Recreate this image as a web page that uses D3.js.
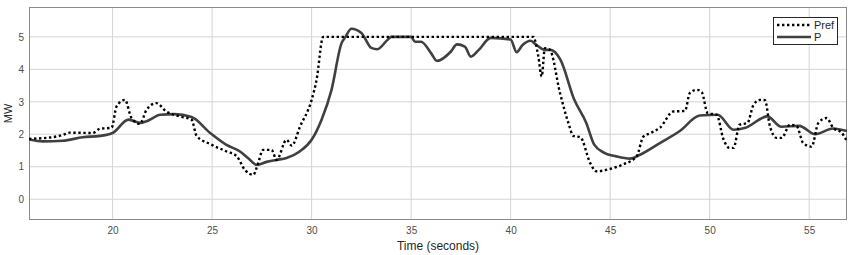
<!DOCTYPE html>
<html>
<head>
<meta charset="utf-8">
<script src="https://cdn.jsdelivr.net/npm/d3@7"></script>
<style>
  body { margin: 0; background: #fff; }
  text { font-family: "Liberation Sans", Arial, sans-serif; }
</style>
</head>
<body>
<script>
// données
const tempsRef = [15.8, 16.85, 17.5, 17.85, 19.0, 19.36, 19.95, 20.2, 20.62, 20.95, 21.37, 21.7, 22.2, 22.7, 23.38, 23.97, 24.22, 24.9, 25.73, 26.23, 26.65, 27.07, 27.24, 27.57, 27.99, 28.24, 28.74, 29.0, 29.42, 30.0, 30.25, 30.58, 41.14, 41.39, 41.56, 41.72, 41.97, 42.48, 42.9, 43.15, 43.5, 44.0, 44.3, 44.98, 45.65, 46.33, 46.67, 47.0, 47.5, 48.17, 48.76, 49.0, 49.35, 49.6, 49.9, 50.35, 50.7, 51.0, 51.2, 51.5, 51.9, 52.2, 52.53, 52.78, 53.03, 53.37, 53.62, 54.03, 54.37, 54.7, 55.12, 55.46, 55.88, 56.2, 56.63, 56.9];
const pref = [1.86, 1.9, 1.98, 2.05, 2.04, 2.17, 2.2, 2.86, 3.06, 2.5, 2.32, 2.75, 2.96, 2.7, 2.55, 2.45, 1.95, 1.7, 1.47, 1.33, 0.9, 0.75, 0.97, 1.52, 1.52, 1.21, 1.83, 1.65, 2.24, 3.06, 3.68, 5.0, 5.0, 4.4, 3.78, 4.65, 4.6, 3.27, 2.35, 1.95, 1.91, 1.11, 0.86, 0.93, 1.07, 1.32, 1.93, 2.03, 2.2, 2.7, 2.72, 3.27, 3.37, 3.3, 2.65, 2.6, 1.83, 1.58, 1.58, 2.29, 2.35, 2.9, 3.06, 3.05, 2.24, 1.89, 1.89, 2.29, 2.25, 1.73, 1.62, 2.35, 2.5, 2.2, 2.05, 1.78];

const tempsP = [15.8, 16.5, 17.5, 18.5, 19.36, 20.0, 20.8, 21.4, 21.7, 22.4, 23.1, 23.97, 24.9, 25.7, 26.4, 26.8, 27.24, 27.74, 28.24, 28.74, 29.4, 30.0, 30.5, 31.0, 31.5, 31.7, 32.0, 32.5, 33.0, 33.3, 33.8, 34.0, 35.0, 35.2, 35.5, 36.0, 36.3, 37.0, 37.3, 37.7, 38.0, 38.4, 39.0, 40.0, 40.3, 40.6, 41.0, 41.3, 41.7, 42.0, 42.5, 43.2, 43.8, 44.2, 44.7, 45.3, 46.0, 46.5, 47.5, 48.5, 49.5, 50.4, 51.2, 51.8, 52.9, 53.6, 54.5, 55.3, 56.2, 56.9];
const p = [1.84, 1.78, 1.8, 1.91, 1.95, 2.04, 2.45, 2.35, 2.4, 2.6, 2.62, 2.53, 2.04, 1.68, 1.47, 1.27, 1.06, 1.15, 1.21, 1.27, 1.47, 1.83, 2.45, 3.37, 4.8, 5.0, 5.25, 5.12, 4.66, 4.62, 4.9, 5.0, 5.0, 4.85, 4.85, 4.5, 4.26, 4.55, 4.77, 4.7, 4.39, 4.6, 4.97, 4.92, 4.53, 4.75, 4.88, 4.75, 4.6, 4.6, 4.3, 3.06, 2.35, 1.68, 1.43, 1.32, 1.25, 1.37, 1.73, 2.1, 2.58, 2.6, 2.14, 2.2, 2.55, 2.23, 2.26, 2.0, 2.18, 2.1];

const ticksX = [20, 25, 30, 35, 40, 45, 50, 55];
const ticksY = [0, 1, 2, 3, 4, 5];
const legende = ['Pref', 'P'];

// le canevas
const largeur = 851, hauteur = 255;
const marge = {haut: 7, droite: 4, bas: 35, gauche: 29};

const svg = d3.select('body').append('svg')
  .attr('width', largeur)
  .attr('height', hauteur);

const x = d3.scaleLinear().domain([15.8, 56.9]).range([marge.gauche, largeur - marge.droite]);
const y = d3.scaleLinear().domain([-0.64, 5.92]).range([hauteur - marge.bas, marge.haut]);

// grille
svg.append('g').selectAll('line').data(ticksX).join('line')
  .attr('x1', d => x(d)).attr('x2', d => x(d))
  .attr('y1', y.range()[0]).attr('y2', y.range()[1])
  .attr('stroke', '#d4d4d4').attr('stroke-width', 1);
svg.append('g').selectAll('line').data(ticksY).join('line')
  .attr('y1', d => y(d)).attr('y2', d => y(d))
  .attr('x1', x.range()[0]).attr('x2', x.range()[1])
  .attr('stroke', '#d4d4d4').attr('stroke-width', 1);

// axes
const axeX = svg.append('g')
  .attr('transform', `translate(0,${y.range()[0]})`)
  .call(d3.axisBottom(x).tickValues(ticksX).tickFormat(d3.format('d')).tickSize(0).tickPadding(7));
const axeY = svg.append('g')
  .attr('transform', `translate(${x.range()[0]},0)`)
  .call(d3.axisLeft(y).tickValues(ticksY).tickFormat(d3.format('d')).tickSize(0).tickPadding(5));
[axeX, axeY].forEach(a => {
  a.select('.domain').remove();
  a.selectAll('text').attr('font-size', 10).attr('fill', '#4d4d4d')
    .attr('font-family', '"Liberation Sans", Arial, sans-serif');
});

// cadre
svg.append('rect')
  .attr('x', x.range()[0] + 0.5).attr('y', y.range()[1] + 0.5)
  .attr('width', x.range()[1] - x.range()[0] - 1)
  .attr('height', y.range()[0] - y.range()[1] - 1)
  .attr('fill', 'none').attr('stroke', '#8a8a8a').attr('stroke-width', 1);

// titres des axes
svg.append('text')
  .attr('x', (x.range()[0] + x.range()[1]) / 2).attr('y', 250)
  .attr('text-anchor', 'middle').attr('font-size', 12).attr('fill', '#262626')
  .text('Time (seconds)');
svg.append('text')
  .attr('transform', `translate(12,${(y.range()[0] + y.range()[1]) / 2}) rotate(-90)`)
  .attr('text-anchor', 'middle').attr('font-size', 11).attr('fill', '#262626')
  .text('MW');

// courbes
svg.append('clipPath').attr('id', 'zone').append('rect')
  .attr('x', x.range()[0]).attr('y', y.range()[1])
  .attr('width', x.range()[1] - x.range()[0]).attr('height', y.range()[0] - y.range()[1]);

const ligne = d3.line().x(d => x(d[0])).y(d => y(d[1])).curve(d3.curveMonotoneX);

svg.append('path')
  .attr('clip-path', 'url(#zone)')
  .attr('d', ligne(d3.zip(tempsP, p)))
  .attr('fill', 'none').attr('stroke', '#404040').attr('stroke-width', 2.6);

svg.append('path')
  .attr('clip-path', 'url(#zone)')
  .attr('d', ligne(d3.zip(tempsRef, pref)))
  .attr('fill', 'none').attr('stroke', '#000').attr('stroke-width', 2.4)
  .attr('stroke-dasharray', '2.4,2.6');

// légende
const leg = svg.append('g').attr('transform', 'translate(773,17)');
leg.append('rect').attr('x', 0.5).attr('y', 0.5).attr('width', 64).attr('height', 27)
  .attr('fill', '#fff').attr('stroke', '#262626').attr('stroke-width', 1);
legende.forEach((nom, i) => {
  const ly = 8 + i * 12;
  leg.append('line')
    .attr('x1', 4).attr('x2', 38).attr('y1', ly).attr('y2', ly)
    .attr('stroke', i === 0 ? '#000' : '#404040')
    .attr('stroke-width', i === 0 ? 2.4 : 2.6)
    .attr('stroke-dasharray', i === 0 ? '2.4,2.6' : null);
  leg.append('text')
    .attr('x', 41).attr('y', ly + 4)
    .attr('font-size', 11).attr('fill', '#262626')
    .text(nom);
});
</script>
</body>
</html>
